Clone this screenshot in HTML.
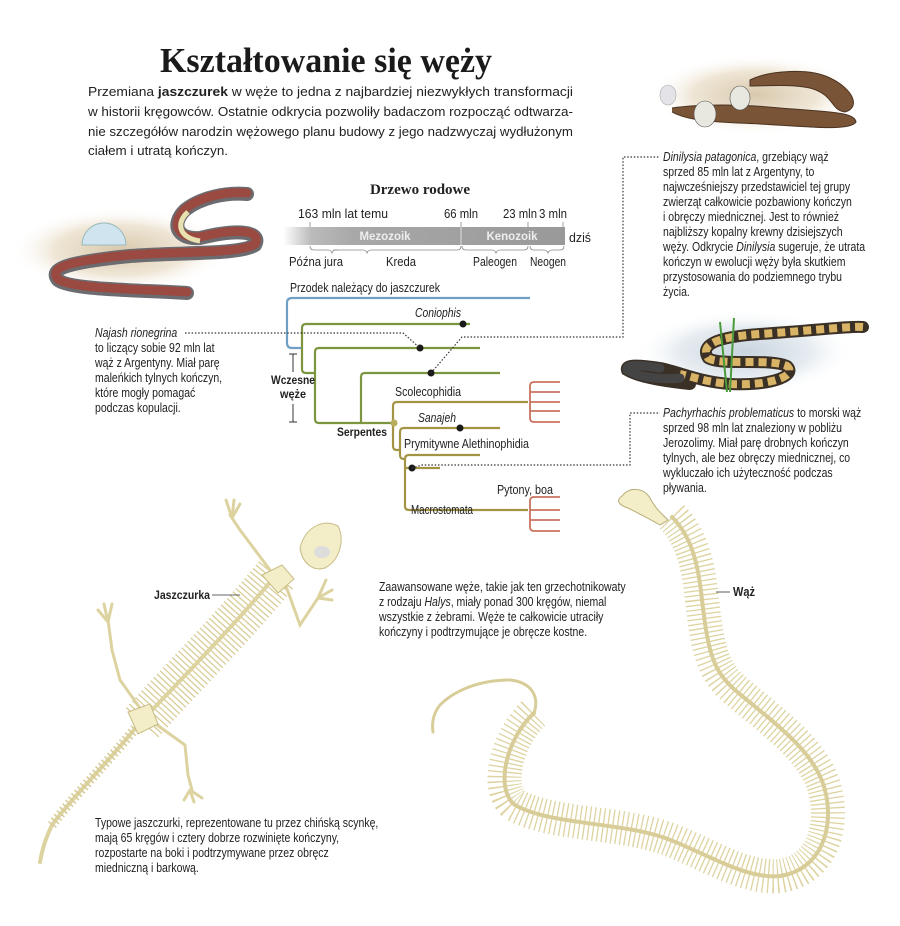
<!DOCTYPE html>
<html><head><meta charset="utf-8"><style>
html,body{margin:0;padding:0;background:#fff;}
svg{display:block;}
.p{font-family:"Liberation Sans",sans-serif;font-size:13px;fill:#222;}
.tl{font-family:"Liberation Sans",sans-serif;font-size:12.5px;fill:#222;}
.dot{stroke:#333;stroke-width:1.2;stroke-dasharray:1.5 1.8;fill:none;}
</style></head><body>
<svg width="900" height="926" viewBox="0 0 900 926" xmlns="http://www.w3.org/2000/svg">
<defs>
<linearGradient id="bar" x1="0" x2="1"><stop offset="0" stop-color="#fff"/><stop offset="0.1" stop-color="#bbb"/><stop offset="0.25" stop-color="#a8a8a8"/><stop offset="1" stop-color="#999"/></linearGradient>
<radialGradient id="glow"><stop offset="0" stop-color="#d9c9ad"/><stop offset="0.6" stop-color="#efe6d6"/><stop offset="1" stop-color="#fff" stop-opacity="0"/></radialGradient>
<radialGradient id="glowb"><stop offset="0" stop-color="#c9d4df"/><stop offset="0.6" stop-color="#e6ecf1"/><stop offset="1" stop-color="#fff" stop-opacity="0"/></radialGradient>
</defs>

<!-- Title -->
<text x="326" y="72" text-anchor="middle" font-family="Liberation Serif,serif" font-weight="bold" font-size="35" fill="#1a1a1a" textLength="332" lengthAdjust="spacingAndGlyphs">Kształtowanie się węży</text>
<text class="p" x="88" y="96" textLength="485" lengthAdjust="spacingAndGlyphs">Przemiana <tspan font-weight="bold">jaszczurek</tspan> w węże to jedna z najbardziej niezwykłych transformacji</text>
<text class="p" x="88" y="116" textLength="485" lengthAdjust="spacingAndGlyphs">w historii kręgowców. Ostatnie odkrycia pozwoliły badaczom rozpocząć odtwarza-</text>
<text class="p" x="88" y="136" textLength="485" lengthAdjust="spacingAndGlyphs">nie szczegółów narodzin wężowego planu budowy z jego nadzwyczaj wydłużonym</text>
<text class="p" x="88" y="155" textLength="140" lengthAdjust="spacingAndGlyphs">ciałem i utratą kończyn.</text>

<!-- Left snake (Najash) -->
<ellipse cx="120" cy="250" rx="110" ry="42" fill="url(#glow)"/>
<path d="M82,245 a22,22 0 0 1 44,0 z" fill="#cfe4ee" stroke="#9bb" stroke-width="1"/>
<path d="M187,293 C140,290 70,290 58,280 C48,268 70,262 130,256 C180,252 240,255 255,245 C262,232 240,228 200,238 C178,240 170,225 185,210 C200,198 225,192 247,194" fill="none" stroke="#6b6b70" stroke-width="14" stroke-linecap="round"/>
<path d="M187,292 C140,289 70,289 58,279 C48,267 70,261 130,255 C180,251 240,254 255,244 C262,231 240,227 200,237 C178,239 170,224 185,209 C200,197 225,191 247,193" fill="none" stroke="#9a4a40" stroke-width="9" stroke-linecap="round"/>
<path d="M200,241 C178,238 176,222 188,212" fill="none" stroke="#e8e2b0" stroke-width="5"/>

<!-- Najash text -->
<g transform="translate(95,0) scale(0.84,1)">
<text class="tl" x="0" y="337"><tspan font-style="italic">Najash rionegrina</tspan></text>
<text class="tl" x="0" y="352">to liczący sobie 92 mln lat</text>
<text class="tl" x="0" y="367">wąż z Argentyny. Miał parę</text>
<text class="tl" x="0" y="382">maleńkich tylnych kończyn,</text>
<text class="tl" x="0" y="397">które mogły pomagać</text>
<text class="tl" x="0" y="412">podczas kopulacji.</text>
</g>

<!-- Drzewo rodowe -->
<text x="420" y="194" text-anchor="middle" font-family="Liberation Serif,serif" font-weight="bold" font-size="15" fill="#222">Drzewo rodowe</text>
<text class="tl" x="298" y="218" textLength="90" lengthAdjust="spacingAndGlyphs">163 mln lat temu</text>
<text class="tl" x="461" y="218" text-anchor="middle" textLength="34" lengthAdjust="spacingAndGlyphs">66 mln</text>
<text class="tl" x="520" y="218" text-anchor="middle" textLength="34" lengthAdjust="spacingAndGlyphs">23 mln</text>
<text class="tl" x="553" y="218" text-anchor="middle" textLength="28" lengthAdjust="spacingAndGlyphs">3 mln</text>
<rect x="283" y="227" width="282" height="18" fill="url(#bar)"/>
<line x1="461" y1="227" x2="461" y2="245" stroke="#ddd" stroke-width="1"/>
<text x="385" y="240" text-anchor="middle" font-family="Liberation Sans,sans-serif" font-weight="bold" font-size="11.5" fill="#eee">Mezozoik</text>
<text x="512" y="240" text-anchor="middle" font-family="Liberation Sans,sans-serif" font-weight="bold" font-size="11.5" fill="#eee">Kenozoik</text>
<text class="tl" x="569" y="242" textLength="22" lengthAdjust="spacingAndGlyphs">dziś</text>
<g stroke="#888" fill="none" stroke-width="0.8">
<line x1="310" y1="222" x2="310" y2="227"/><line x1="461" y1="222" x2="461" y2="227"/><line x1="528" y1="222" x2="528" y2="227"/><line x1="563" y1="222" x2="563" y2="227"/>
<path d="M310,246 q0,4 4,4 h14 q3,0 4,3 q1,-3 4,-3 h2"/>
<path d="M333,250 h30 q3,0 4,3 q1,-3 4,-3 h86 q4,0 4,-4"/>
<path d="M462,246 q0,4 4,4 h26 q3,0 4,3 q1,-3 4,-3 h24 q4,0 4,-4"/>
<path d="M530,246 q0,4 4,4 h10 q3,0 4,3 q1,-3 4,-3 h8 q4,0 4,-4"/>
</g>
<text class="tl" x="316" y="266" text-anchor="middle" textLength="54" lengthAdjust="spacingAndGlyphs">Późna jura</text>
<text class="tl" x="401" y="266" text-anchor="middle" textLength="30" lengthAdjust="spacingAndGlyphs">Kreda</text>
<text class="tl" x="495" y="266" text-anchor="middle" textLength="44" lengthAdjust="spacingAndGlyphs">Paleogen</text>
<text class="tl" x="548" y="266" text-anchor="middle" textLength="36" lengthAdjust="spacingAndGlyphs">Neogen</text>

<!-- Tree -->
<text class="tl" x="290" y="292" textLength="150" lengthAdjust="spacingAndGlyphs">Przodek należący do jaszczurek</text>
<path d="M530,298 H292 q-5,0 -5,5 V343 q0,5 5,5 h10" fill="none" stroke="#6fa0c3" stroke-width="2.2"/>
<g fill="none" stroke="#7c953f" stroke-width="2.2">
<path d="M470,324 H306 q-4,0 -4,4 V369 q0,4 4,4 h9"/>
<path d="M480,348 H319 q-4,0 -4,4 V419 q0,4 4,4 h75"/>
<path d="M500,373 H365 q-4,0 -4,4 V423"/>
</g>
<g fill="none" stroke="#a39443" stroke-width="2.2">
<path d="M528,402 H397 q-4,0 -4,4 V446 q0,4 4,4 h3"/>
<path d="M500,428 H404 q-4,0 -4,4 V455 q0,4 4,4"/>
<path d="M480,455 H409 q-4,0 -4,4 V506 q0,4 4,4 h119"/>
<line x1="405" y1="468" x2="440" y2="468"/>
</g>
<g fill="none" stroke="#c9735e" stroke-width="1.8">
<path d="M560,382 h-26 q-4,0 -4,4 v32 q0,4 4,4 h26 M530,402 h30 M530,411 h30 M530,392 h30"/>
<path d="M560,497 h-26 q-4,0 -4,4 v26 q0,4 4,4 h26 M530,510 h30 M530,520 h30"/>
</g>
<circle cx="394" cy="423" r="3.5" fill="#b7ad5c"/>
<g fill="#1a1a1a">
<circle cx="463" cy="324" r="3.5"/><circle cx="420" cy="348" r="3.5"/><circle cx="431" cy="373" r="3.5"/><circle cx="460" cy="428" r="3.5"/><circle cx="412" cy="468" r="3.5"/>
</g>
<text class="tl" x="415" y="317" font-style="italic" textLength="46" lengthAdjust="spacingAndGlyphs">Coniophis</text>
<text class="tl" x="395" y="396" textLength="66" lengthAdjust="spacingAndGlyphs">Scolecophidia</text>
<text class="tl" x="418" y="422" font-style="italic" textLength="38" lengthAdjust="spacingAndGlyphs">Sanajeh</text>
<text class="tl" x="404" y="448" textLength="125" lengthAdjust="spacingAndGlyphs">Prymitywne Alethinophidia</text>
<text class="tl" x="497" y="494" textLength="56" lengthAdjust="spacingAndGlyphs">Pytony, boa</text>
<text class="tl" x="411" y="514" textLength="62" lengthAdjust="spacingAndGlyphs">Macrostomata</text>
<text x="337" y="436" font-family="Liberation Sans,sans-serif" font-weight="bold" font-size="12" fill="#222" textLength="50" lengthAdjust="spacingAndGlyphs">Serpentes</text>
<text x="293" y="384" text-anchor="middle" font-family="Liberation Sans,sans-serif" font-weight="bold" font-size="12" fill="#222" textLength="44" lengthAdjust="spacingAndGlyphs">Wczesne</text>
<text x="293" y="398" text-anchor="middle" font-family="Liberation Sans,sans-serif" font-weight="bold" font-size="12" fill="#222" textLength="26" lengthAdjust="spacingAndGlyphs">węże</text>
<g stroke="#333" stroke-width="1"><path d="M293,354 v18 M289,354 h8 M293,404 v18 M289,422 h8"/></g>

<!-- dotted connectors -->
<path class="dot" d="M185,333 H403 L420,348"/>
<path class="dot" d="M431,373 L462,337 H623 V157 H660"/>
<path class="dot" d="M412,468 L422,465 H630 V413 H660"/>

<!-- Dinilysia image -->
<ellipse cx="755" cy="95" rx="105" ry="40" fill="url(#glow)"/>
<ellipse cx="668" cy="95" rx="8" ry="10" fill="#e4e4e8" stroke="#aaa" stroke-width="0.6"/>
<path d="M672,108 C700,104 740,104 780,108 C830,112 855,112 856,122 C850,132 800,126 760,124 C720,122 690,122 672,112" fill="#7a5436" stroke="#4a3322" stroke-width="1"/>
<path d="M750,80 C770,70 810,68 830,78 C855,90 860,108 845,112 C830,110 835,95 810,88 C790,84 770,86 750,86 z" fill="#7a5436" stroke="#4a3322" stroke-width="1"/>
<ellipse cx="740" cy="98" rx="10" ry="12" fill="#e8e8e0" stroke="#555" stroke-width="0.6"/>
<ellipse cx="705" cy="114" rx="11" ry="13" fill="#e8e8e0" stroke="#555" stroke-width="0.6"/>

<!-- Dinilysia text -->
<g transform="translate(663,0) scale(0.84,1)">
<text class="tl" x="0" y="161"><tspan font-style="italic">Dinilysia patagonica</tspan>, grzebiący wąż</text>
<text class="tl" x="0" y="176">sprzed 85 mln lat z Argentyny, to</text>
<text class="tl" x="0" y="191">najwcześniejszy przedstawiciel tej grupy</text>
<text class="tl" x="0" y="206">zwierząt całkowicie pozbawiony kończyn</text>
<text class="tl" x="0" y="221">i obręczy miednicznej. Jest to również</text>
<text class="tl" x="0" y="236">najbliższy kopalny krewny dzisiejszych</text>
<text class="tl" x="0" y="251">węży. Odkrycie <tspan font-style="italic">Dinilysia</tspan> sugeruje, że utrata</text>
<text class="tl" x="0" y="266">kończyn w ewolucji węży była skutkiem</text>
<text class="tl" x="0" y="281">przystosowania do podziemnego trybu</text>
<text class="tl" x="0" y="296">życia.</text>
</g>

<!-- Pachyrhachis image -->
<ellipse cx="745" cy="352" rx="110" ry="42" fill="url(#glowb)"/>
<path d="M863,327 C850,326 820,330 760,334 C715,337 700,345 708,358 C720,366 770,358 787,366 C798,376 770,386 730,384 C700,382 680,372 660,368 C640,365 625,364 627,370 C640,378 670,382 690,384" fill="none" stroke="#3a3026" stroke-width="12" stroke-linecap="round"/>
<path d="M863,327 C850,326 820,330 760,334 C715,337 700,345 708,358 C720,366 770,358 787,366 C798,376 770,386 730,384 C705,382 690,376 680,374" fill="none" stroke="#d9b467" stroke-width="8" stroke-dasharray="8 5"/>
<path d="M660,368 C640,365 625,364 627,370 C640,378 665,380 680,378" fill="none" stroke="#444" stroke-width="9" stroke-linecap="round"/>
<g stroke="#4a9a3a" stroke-width="2"><line x1="720" y1="322" x2="727" y2="392"/><line x1="734" y1="318" x2="730" y2="392"/></g>

<!-- Pachyrhachis text -->
<g transform="translate(663,0) scale(0.84,1)">
<text class="tl" x="0" y="417"><tspan font-style="italic">Pachyrhachis problematicus</tspan> to morski wąż</text>
<text class="tl" x="0" y="432">sprzed 98 mln lat znaleziony w pobliżu</text>
<text class="tl" x="0" y="447">Jerozolimy. Miał parę drobnych kończyn</text>
<text class="tl" x="0" y="462">tylnych, ale bez obręczy miednicznej, co</text>
<text class="tl" x="0" y="477">wykluczało ich użyteczność podczas</text>
<text class="tl" x="0" y="492">pływania.</text>
</g>

<!-- Lizard skeleton -->
<g fill="none" stroke-linecap="butt">
<path d="M276,575 C240,620 180,680 140,725" stroke="#d8cd98" stroke-width="44" stroke-dasharray="1.3 3.2"/>
<path d="M280,570 C240,620 180,680 138,725 C110,760 70,800 52,825 C45,840 42,850 40,862" stroke="#ddd3a0" stroke-width="4" stroke-linecap="round"/>
<path d="M138,725 C110,760 70,800 52,825" stroke="#d6cb95" stroke-width="10" stroke-dasharray="1.5 3"/>
<g stroke="#ddd3a0" stroke-width="3" stroke-linecap="round">
<path d="M270,570 L240,530 L230,515 M232,518 l-6,-18 M232,518 l2,-18 M232,518 l8,-14"/>
<path d="M282,575 L300,625 L318,598 M318,598 l8,-18 M318,598 l14,-8 M318,598 l14,2"/>
<path d="M140,708 L120,680 L112,650 L108,620 M108,622 l-4,-18 M108,622 l4,-18 M108,622 l-10,-12"/>
<path d="M150,720 L185,745 L188,775 L192,790 M190,790 l-6,10 M190,790 l4,12 M190,790 l12,8"/>
</g>
</g>
<path d="M300,548 C305,528 322,518 338,526 C345,540 340,560 325,568 C312,572 302,562 300,548 z" fill="#f3eec8" stroke="#c8bd85" stroke-width="1"/>
<ellipse cx="322" cy="552" rx="8" ry="6" fill="#ddd"/>
<path d="M262,575 l20,-10 l12,14 l-16,14 z" fill="#f3eec8" stroke="#c8bd85"/>
<path d="M128,712 l22,-8 l8,20 l-20,10 z" fill="#f3eec8" stroke="#c8bd85"/>
<text x="210" y="599" text-anchor="end" font-family="Liberation Sans,sans-serif" font-weight="bold" font-size="12" fill="#222" textLength="56" lengthAdjust="spacingAndGlyphs">Jaszczurka</text>
<line x1="212" y1="595" x2="240" y2="595" stroke="#333" stroke-width="0.8"/>

<!-- Snake skeleton -->
<g fill="none" stroke-linejoin="round">
<path d="M672,517 C690,535 698,560 702,600 C708,650 712,670 735,690 C770,720 815,750 825,790 C835,830 820,870 780,876 C745,880 700,850 665,838 C620,822 550,825 515,805 C495,790 505,740 534,713" stroke="#ddd3a0" stroke-width="34" stroke-dasharray="1.3 3.4" stroke-linecap="butt"/>
<path d="M672,517 C690,535 698,560 702,600 C708,650 712,670 735,690 C770,720 815,750 825,790 C835,830 820,870 780,876 C745,880 700,850 665,838 C620,822 550,825 515,805 C495,790 505,740 534,713" stroke="#d8cd98" stroke-width="4" stroke-linecap="round"/>
<path d="M534,713 C540,695 530,682 510,680 C480,680 455,690 440,705 C432,715 432,725 433,732" stroke="#d8cd98" stroke-width="3" stroke-linecap="round"/>
</g>
<path d="M622,496 C630,486 644,488 650,498 C655,508 660,512 668,520 L660,525 C648,518 636,512 628,508 C618,505 616,500 622,496 z" fill="#f3eec8" stroke="#b8ad78" stroke-width="1"/>
<text class="tl" x="733" y="596" font-weight="bold" textLength="22" lengthAdjust="spacingAndGlyphs">Wąż</text>
<line x1="716" y1="592" x2="730" y2="592" stroke="#333" stroke-width="0.8"/>

<!-- bottom texts -->
<g transform="translate(379,0) scale(0.84,1)">
<text class="tl" x="0" y="591">Zaawansowane węże, takie jak ten grzechotnikowaty</text>
<text class="tl" x="0" y="606">z rodzaju <tspan font-style="italic">Halys</tspan>, miały ponad 300 kręgów, niemal</text>
<text class="tl" x="0" y="621">wszystkie z żebrami. Węże te całkowicie utraciły</text>
<text class="tl" x="0" y="636">kończyny i podtrzymujące je obręcze kostne.</text>
</g>
<g transform="translate(95,0) scale(0.84,1)">
<text class="tl" x="0" y="827">Typowe jaszczurki, reprezentowane tu przez chińską scynkę,</text>
<text class="tl" x="0" y="842">mają 65 kręgów i cztery dobrze rozwinięte kończyny,</text>
<text class="tl" x="0" y="857">rozpostarte na boki i podtrzymywane przez obręcz</text>
<text class="tl" x="0" y="872">miedniczną i barkową.</text>
</g>
</svg>
</body></html>
